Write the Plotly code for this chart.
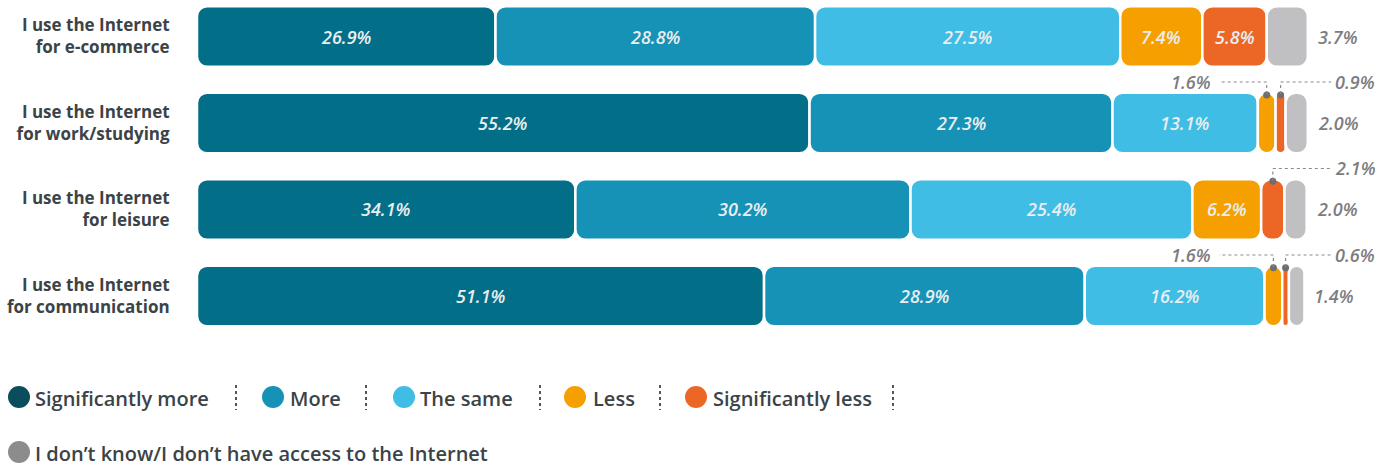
import plotly.graph_objects as go

# ---------------- data ----------------
categories = [
    "I use the Internet<br>for e-commerce",
    "I use the Internet<br>for work/studying",
    "I use the Internet<br>for leisure",
    "I use the Internet<br>for communication",
]
series_names = [
    "Significantly more",
    "More",
    "The same",
    "Less",
    "Significantly less",
    "I don’t know/I don’t have access to the Internet",
]
sig_more = [26.9, 55.2, 34.1, 51.1]
more = [28.8, 27.3, 30.2, 28.9]
same = [27.5, 13.1, 25.4, 16.2]
less = [7.4, 1.6, 6.2, 1.6]
sig_less = [5.8, 0.9, 2.1, 0.6]
dont_know = [3.7, 2.0, 2.0, 1.4]
series_values = [sig_more, more, same, less, sig_less, dont_know]

# ---------------- styles ----------------
bar_colors = ["#036e87", "#1592b6", "#3fbde5", "#f5a000", "#ec6726", "#c0c0c2"]
legend_colors = ["#0a4e5d", "#1592b6", "#3fbde5", "#f5a000", "#ec6726", "#8c8c8c"]
SANS = "Open Sans, sans-serif"
TEXT_DARK = "#3b4347"
LABEL_GREY = "#7d7d7f"

W, H = 1391, 469
PL, PR, PT, PB = 197, 1391, 0, 340  # plot area in pixels
X_MAX = 107.6
BAR_W = 0.70
SMALL = 3.0
LEFT_LABEL_X = 91.6
RIGHT_LABEL_X = 102.4


def px_x(px):
    return (px - PL) / (PR - PL)


def px_y(py):
    return (PB - py) / (PB - PT)


rows = list(range(len(categories)))
fig = go.Figure()

shapes = []
annotations = []
dot_x, dot_y = [], []
label_font = dict(family=SANS, size=18, color=LABEL_GREY, style="italic", weight=600)
inside_font = dict(family=SANS, size=18, color="#e9eef1", style="italic", weight=600)

bases = [0.0] * len(rows)
for si, (name, vals) in enumerate(zip(series_names, series_values)):
    fig.add_trace(go.Bar(
        name=name,
        orientation="h",
        y=rows,
        x=vals,
        base=list(bases),
        width=BAR_W,
        marker=dict(color=bar_colors[si], cornerradius=10,
                    line=dict(color="white", width=2.5)),
        hoverinfo="skip",
        showlegend=False,
    ))
    for r, v in zip(rows, vals):
        b = bases[r]
        center = b + v / 2
        if si == len(series_names) - 1:
            annotations.append(dict(
                x=b + v, y=r, xref="x", yref="y", text=f"{v:.1f}%",
                xanchor="left", yanchor="middle", xshift=8, showarrow=False,
                font=label_font))
        elif v >= SMALL:
            annotations.append(dict(
                x=center, y=r, xref="x", yref="y", text=f"{v:.1f}%",
                xanchor="center", yanchor="middle", showarrow=False,
                font=inside_font))
        else:
            top = r - 0.335
            ly = r - 0.474
            go_left = (si == 3)
            end_x = LEFT_LABEL_X + 0.5 if go_left else RIGHT_LABEL_X - 0.2
            shapes.append(dict(type="line", xref="x", yref="y",
                               x0=center, x1=center, y0=top, y1=ly,
                               line=dict(color="#8a8a8a", width=1.2, dash="dot")))
            shapes.append(dict(type="line", xref="x", yref="y",
                               x0=center, x1=end_x, y0=ly, y1=ly,
                               line=dict(color="#8a8a8a", width=1.2, dash="dot")))
            dot_x.append(center)
            dot_y.append(top + 0.01)
            annotations.append(dict(
                x=LEFT_LABEL_X if go_left else RIGHT_LABEL_X, y=ly,
                xref="x", yref="y", text=f"{v:.1f}%",
                xanchor="right" if go_left else "left", yanchor="middle",
                showarrow=False, font=label_font))
        bases[r] = b + v

fig.add_trace(go.Scatter(
    x=dot_x, y=dot_y, mode="markers",
    marker=dict(color="#6e6e6e", size=7),
    hoverinfo="skip", showlegend=False, cliponaxis=False))

# ---------------- custom legend ----------------
legend_items = [
    # (circle center x px, text left px, y px)
    (19, 33, 397),
    (273, 288, 397),
    (404, 418, 397),
    (575, 591, 397),
    (696, 711, 397),
    (19, 33, 452),
]
separators_x = [236, 366, 540, 660, 893]
R = 11
for (cx, tx, cy), name, col in zip(legend_items, series_names, legend_colors):
    shapes.append(dict(type="circle", xref="paper", yref="paper",
                       x0=px_x(cx - R), x1=px_x(cx + R),
                       y0=px_y(cy + R), y1=px_y(cy - R),
                       fillcolor=col, line=dict(width=0)))
    annotations.append(dict(
        x=px_x(tx), y=px_y(cy + 1), xref="paper", yref="paper", text=name,
        xanchor="left", yanchor="middle", showarrow=False,
        font=dict(family=SANS, size=20, color=TEXT_DARK, weight=600)))
for sx in separators_x:
    shapes.append(dict(type="line", xref="paper", yref="paper",
                       x0=px_x(sx), x1=px_x(sx), y0=px_y(385), y1=px_y(410),
                       line=dict(color="#555555", width=2, dash="dot")))

fig.update_layout(
    width=W, height=H,
    margin=dict(l=PL, r=W - PR, t=PT, b=H - PB, pad=0, autoexpand=False),
    barmode="overlay",
    plot_bgcolor="white", paper_bgcolor="white",
    xaxis=dict(range=[0, X_MAX], visible=False, fixedrange=True, automargin=False),
    yaxis=dict(range=[3.509, -0.422], tickvals=rows, ticktext=categories,
               showgrid=False, zeroline=False, showline=False, automargin=False,
               fixedrange=True,
               ticks="outside", ticklen=23, tickcolor="rgba(0,0,0,0)",
               tickfont=dict(family=SANS, size=17, color=TEXT_DARK, weight="bold")),
    shapes=shapes,
    annotations=annotations,
    showlegend=False,
    hovermode=False,
)

fig.write_html(
    "out.html",
    config={"displayModeBar": False},
    post_script="document.body.style.margin='0px';document.body.style.overflow='hidden';",
)
